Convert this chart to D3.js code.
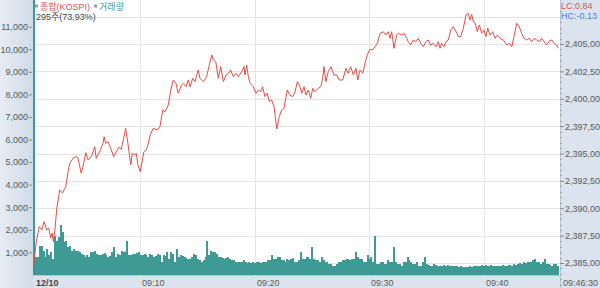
<!DOCTYPE html>
<html><head><meta charset="utf-8">
<script src="https://cdn.jsdelivr.net/npm/d3@7"></script>
<style>
html,body{margin:0;padding:0;background:#fff;}
svg{display:block;font-family:"Liberation Sans",Arial,sans-serif;}
</style></head>
<body>
<svg id="c" width="600" height="288"></svg>
<script>
// ---- data ----
const priceSecs = [38,52,69,82,94,108,118,129,136,143,151,160,176,190,208,220,229,246,263,272,289,298,313,325,342,360,368,386,403,409,417,430,447,459,473,487,499,512,522,534,549,557,570,578,587,599,610,618,630,639,651,667,688,702,717,729,746,759,772,786,798,816,825,839,851,860,874,886,903,912,930,947,961,974,982,995,1008,1021,1035,1049,1061,1073,1087,1101,1113,1131,1143,1148,1157,1166,1175,1192,1206,1218,1231,1241,1253,1265,1276,1288,1301,1315,1328,1341,1353,1370,1384,1399,1411,1423,1437,1446,1458,1468,1481,1493,1504,1516,1533,1546,1556,1563,1573,1585,1600,1615,1630,1643,1661,1678,1690,1703,1717,1731,1740,1752,1766,1778,1790,1804,1818,1830,1843,1857,1874,1888,1900,1909,1918,1930,1944,1953,1971,1983,1997,2005,2018,2031,2046,2058,2070,2084,2098,2110,2123,2136,2151,2163,2172,2180,2193,2203,2215,2228,2241,2256,2268,2280,2294,2308,2320,2329,2338,2346,2357,2367,2378,2390,2402,2413,2422,2434,2448,2460,2472,2486,2504,2522,2535,2548,2560,2574,2588,2600,2612,2626,2640,2653,2665,2679,2693,2705,2717,2731,2745,2758,2770,2784,2792];
const prices = [2384.43,2386.83,2388.32,2388.01,2388.77,2388.01,2388.20,2387.28,2387.74,2386.95,2388.01,2389.84,2391.67,2391.39,2391.97,2393.34,2394.11,2394.56,2394.71,2394.59,2393.19,2393.79,2395.07,2394.41,2394.71,2395.62,2394.56,2395.16,2395.93,2396.53,2395.93,2396.08,2395.32,2394.71,2395.16,2395.57,2395.38,2396.39,2397.30,2395.93,2393.95,2395.02,2394.86,2395.02,2393.95,2393.34,2394.41,2395.16,2395.32,2395.78,2396.69,2397.30,2397.15,2397.45,2398.97,2398.82,2399.43,2400.80,2401.71,2401.41,2400.50,2401.26,2401.41,2401.10,2401.71,2401.10,2401.87,2401.56,2402.63,2401.87,2401.56,2402.01,2403.08,2404.00,2403.54,2403.38,2401.87,2402.93,2401.56,2402.17,2402.32,2402.63,2402.01,2402.32,2402.01,2402.47,2402.93,2402.17,2403.08,2402.01,2401.41,2401.10,2400.50,2400.80,2400.64,2401.10,2400.19,2400.50,2399.73,2399.89,2399.27,2397.24,2398.36,2398.97,2399.13,2400.80,2400.34,2400.19,2400.64,2401.56,2401.10,2400.50,2401.10,2400.34,2400.80,2400.04,2400.95,2400.64,2400.95,2401.10,2401.87,2402.93,2401.56,2402.47,2402.93,2402.17,2402.17,2401.71,2401.71,2402.78,2402.32,2402.93,2402.17,2402.78,2401.71,2402.63,2402.32,2403.24,2404.00,2404.52,2404.45,2404.75,2405.06,2405.98,2406.12,2405.82,2406.12,2405.52,2406.12,2404.61,2405.82,2405.98,2405.82,2405.98,2405.52,2405.21,2404.91,2405.37,2405.21,2405.52,2405.06,2404.75,2405.21,2405.37,2404.91,2405.06,2404.75,2405.21,2404.61,2405.06,2404.75,2405.21,2405.37,2406.28,2406.58,2406.12,2405.67,2405.67,2406.43,2407.65,2407.80,2407.19,2407.71,2407.04,2406.89,2406.12,2406.74,2405.98,2406.28,2405.67,2406.43,2405.82,2406.12,2405.52,2405.82,2405.52,2405.37,2404.91,2405.06,2404.75,2405.67,2406.89,2406.58,2405.98,2405.52,2405.37,2405.52,2405.21,2405.52,2405.37,2405.21,2405.52,2405.21,2404.91,2405.27,2405.37,2405.06,2404.91,2404.61];
const volumes = [15000,780,780,1300,1300,1080,780,1150,860,1000,710,1740,1520,1670,2190,1890,1450,1520,1230,1300,1080,1150,1080,1080,1000,930,860,780,860,780,1000,1030,1080,930,890,860,930,980,860,780,830,1000,1230,780,930,890,1080,1030,1000,1520,860,890,930,930,980,1000,860,890,930,860,780,930,890,780,830,930,890,560,860,830,1000,710,1000,930,560,1150,780,860,830,780,740,710,710,780,930,890,710,680,560,640,780,1520,860,1080,1030,1000,930,780,780,750,710,740,780,710,680,640,590,560,590,560,640,560,530,560,530,560,530,560,590,530,560,590,560,640,640,860,710,710,780,780,640,640,590,710,680,710,750,560,560,640,1000,710,710,780,780,710,1230,710,640,640,560,780,640,560,560,490,490,410,410,490,560,560,640,640,710,710,640,710,710,1000,780,710,710,560,560,860,710,780,560,1740,490,490,560,560,490,490,640,590,560,1230,560,490,490,410,560,560,780,640,560,490,490,560,410,410,560,780,490,440,410,410,490,440,410,410,380,440,410,440,410,380,410,380,380,350,380,350,340,350,340,380,350,380,410,380,410,440,380,440,410,380,440,410,410,380,410,380,440,410,380,440,440,410,490,440,490,530,490,560,530,560,590,560,640,710,560,560,490,590,710,490,490,440,410,490,490,410];
const barStartSec = 36, barSec = 10, endSec = 2796;
const volTicks = [1000,2000,3000,4000,5000,6000,7000,8000,9000,10000,11000];
const priceTicks = [2385,2387.5,2390,2392.5,2395,2397.5,2400,2402.5,2405,2407.5];
const timeTicks = [{s:600,label:"09:10"},{s:1200,label:"09:20"},{s:1800,label:"09:30"},{s:2400,label:"09:40"}];
const dateLabel = "12/10", endLabel = "09:46:30";
const topNote = "295주(73,93%)";
const legendItems = [{name:"종합(KOSPI)", color:"#d9534f"},{name:"거래량", color:"#3f9a96"}];
const lcText = "LC:0,84", hcText = "HC:-0,13";

// ---- layout ----
const W=600,H=288, L=33, R=560, T=0, B=275;
const svg = d3.select("#c");
const RED="#dc5048", TEAL="#3d9a95", GRID="#e3e3e3", PANEL="#dbe4ee", TXT="#5a5a5a";

const x = d3.scaleLinear().domain([barStartSec, endSec]).range([L, R-1]);
const yP = d3.scaleLinear().domain([2385, 2405]).range([263, 44]);
const yV = d3.scaleLinear().domain([0, 11000]).range([274.9, 26.7]);

const loc = d3.formatLocale({decimal:",", thousands:",", grouping:[3], currency:["",""]});
const fP = loc.format(",.2f"), fV = d3.format(",");

// panels
const defs = svg.append("defs");
const lg = defs.append("linearGradient").attr("id","lp").attr("x1",0).attr("x2",1);
lg.append("stop").attr("offset","0%").attr("stop-color","#e6ecf3");
lg.append("stop").attr("offset","100%").attr("stop-color","#cfdbe8");
defs.append("clipPath").attr("id","pc").append("rect").attr("x",L).attr("y",T).attr("width",R-L).attr("height",B-T);

svg.append("rect").attr("x",0).attr("y",0).attr("width",L).attr("height",H).attr("fill","url(#lp)");
svg.append("rect").attr("x",R).attr("y",0).attr("width",W-R).attr("height",H).attr("fill",PANEL);
svg.append("rect").attr("x",L).attr("y",B).attr("width",R-L).attr("height",H-B).attr("fill",PANEL);
svg.append("line").attr("x1",L).attr("x2",R).attr("y1",B+0.5).attr("y2",B+0.5).attr("stroke","#b9c4d0");
svg.append("line").attr("x1",R+0.5).attr("x2",R+0.5).attr("y1",0).attr("y2",H).attr("stroke","#b9c4d0");

// grid
const g = svg.append("g");
g.selectAll("line.h").data(priceTicks).join("line")
  .attr("x1",L).attr("x2",R).attr("y1",d=>Math.round(yP(d))+0.5).attr("y2",d=>Math.round(yP(d))+0.5)
  .attr("stroke",GRID);
g.selectAll("line.v").data(timeTicks).join("line")
  .attr("x1",d=>Math.round(x(d.s))+0.5).attr("x2",d=>Math.round(x(d.s))+0.5).attr("y1",0).attr("y2",H)
  .attr("stroke",GRID);

// volume bars
const plot = svg.append("g").attr("clip-path","url(#pc)");
plot.selectAll("rect.v").data(volumes).join("rect")
  .attr("x",(d,i)=>x(barStartSec+i*barSec))
  .attr("width",(d,i)=>x(barStartSec+(i+1)*barSec)-x(barStartSec+i*barSec)+0.1)
  .attr("y",d=>yV(d)).attr("height",d=>yV(0)-yV(d))
  .attr("fill",TEAL).attr("shape-rendering","crispEdges");

// price line
const pts = priceSecs.map((s,i)=>[s,prices[i]]);
plot.append("path").datum(pts)
  .attr("d", d3.line().x(d=>x(d[0])).y(d=>yP(d[1])))
  .attr("fill","none").attr("stroke",RED).attr("stroke-width",1);

// left axis
const la = svg.append("g").attr("transform",`translate(${L-1},0)`)
  .call(d3.axisLeft(yV).tickValues(volTicks).tickFormat(fV).tickSize(3).tickPadding(1));
la.select(".domain").remove();
la.selectAll("text").attr("fill",TXT).style("font-size","9px").style("font-family","'Liberation Sans',Arial,sans-serif");
la.selectAll("line").attr("stroke","#888");

// right axis
const ra = svg.append("g").attr("transform",`translate(${R},0)`)
  .call(d3.axisRight(yP).tickValues(priceTicks.filter(d=>d<=2405)).tickFormat(fP).tickSize(4).tickPadding(1));
ra.select(".domain").remove();
ra.selectAll("text").attr("fill",TXT).style("font-size","9px").style("font-family","'Liberation Sans',Arial,sans-serif");
ra.selectAll("line").attr("stroke","#888");
const minor = d3.range(2383, 2408.01, 0.5).filter(v=>priceTicks.indexOf(v)<0);
svg.append("g").selectAll("line").data(minor).join("line")
  .attr("x1",R).attr("x2",R+2).attr("y1",d=>Math.round(yP(d))+0.5).attr("y2",d=>Math.round(yP(d))+0.5)
  .attr("stroke","#9aa");

// bottom labels
const bl = svg.append("g").style("font-size","9px").attr("fill",TXT);
bl.append("text").attr("x",L+3).attr("y",285.5).text(dateLabel).style("font-weight","bold").attr("fill","#444");
bl.selectAll("text.t").data(timeTicks).join("text").attr("class","t")
  .attr("x",d=>Math.round(x(d.s))+2).attr("y",285.5).text(d=>d.label);
bl.append("text").attr("x",R+3).attr("y",285.5).text(endLabel);

// legend & notes
const lgG = svg.append("g").style("font-family","'Liberation Sans','Noto Sans CJK KR',sans-serif").style("font-size","9px");
let lx = 35;
legendItems.forEach(it=>{
  lgG.append("rect").attr("x",lx).attr("y",4.5).attr("width",3).attr("height",3).attr("fill","#999");
  const t = lgG.append("text").attr("x",lx+5).attr("y",10).attr("fill",it.color).text(it.name);
  lx += 5 + t.node().getComputedTextLength() + 4;
});
svg.append("text").attr("x",36).attr("y",19.5).style("font-family","'Liberation Sans','Noto Sans CJK KR',sans-serif")
  .style("font-size","9px").attr("fill","#444").text(topNote);
svg.append("text").attr("x",561).attr("y",9).style("font-size","9px").attr("fill","#d9534f").text(lcText);
svg.append("text").attr("x",561).attr("y",19).style("font-size","9px").attr("fill","#4a7fd0").text(hcText);
</script>
</body></html>
